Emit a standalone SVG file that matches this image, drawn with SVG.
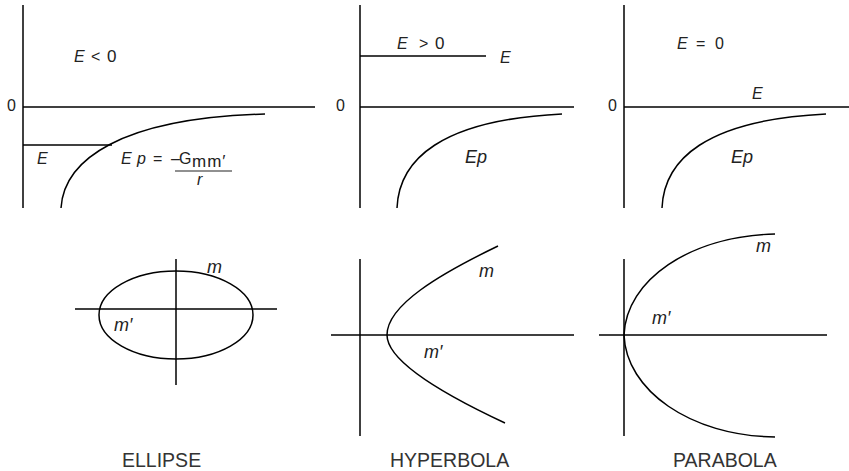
<svg xmlns="http://www.w3.org/2000/svg" width="849" height="471" viewBox="0 0 849 471">
<style>
.ln{stroke:#000;stroke-width:1.5;fill:none}
.t{font-family:"Liberation Sans",Arial,sans-serif;font-size:16px;fill:#222}
.i{font-style:italic}
.m{font-size:18px}
.cap{font-family:"Liberation Sans",Arial,sans-serif;font-size:19.5px;fill:#333}
</style>
<rect width="849" height="471" fill="#fff"/>
<g id="energy-ellipse">
<line class="ln" x1="23" y1="5" x2="23" y2="208"/>
<line class="ln" x1="23" y1="107" x2="315" y2="107"/>
<line class="ln" x1="23" y1="145" x2="112" y2="145"/>
<path class="ln" d="M61,208 C64,160 120,118 265,114"/>
<text class="t" x="7" y="111" font-size="17">0</text>
<text class="t" y="62"><tspan class="i" x="74">E</tspan><tspan x="91">&lt;</tspan><tspan x="107" font-size="17">0</tspan></text>
<text class="t i" x="37" y="164">E</text>
<text class="t" y="164" font-size="17"><tspan class="i" x="121">E</tspan><tspan class="i" x="137">p</tspan><tspan x="153">=</tspan><tspan x="171">–</tspan><tspan x="179">G</tspan><tspan x="192" y="167" font-size="17" letter-spacing="1">mm′</tspan></text>
<line stroke="#222" stroke-width="1.2" x1="175" y1="171" x2="232" y2="171"/>
<text class="t i" x="197" y="185" font-size="17">r</text>
</g>
<g id="energy-hyperbola">
<line class="ln" x1="360" y1="5" x2="360" y2="208"/>
<line class="ln" x1="360" y1="107" x2="574" y2="107"/>
<line class="ln" x1="360" y1="56" x2="486" y2="56"/>
<path class="ln" d="M397,208 C399,160 440,120 562,114"/>
<text class="t" x="336" y="111" font-size="17">0</text>
<text class="t" y="49"><tspan class="i" x="397">E</tspan><tspan x="419">&gt;</tspan><tspan x="435" font-size="17">0</tspan></text>
<text class="t i" x="500" y="63" font-size="17">E</text>
<text class="t i m" x="465" y="163">Ep</text>
</g>
<g id="energy-parabola">
<line class="ln" x1="624" y1="5" x2="624" y2="208"/>
<line class="ln" x1="624" y1="107" x2="849" y2="107"/>
<path class="ln" d="M662,208 C664,160 705,120 826,114"/>
<text class="t" x="608" y="111" font-size="17">0</text>
<text class="t" y="49" font-size="18"><tspan class="i" x="677">E</tspan><tspan x="696">=</tspan><tspan x="715">0</tspan></text>
<text class="t i" x="752" y="99" font-size="17">E</text>
<text class="t i m" x="731" y="163">Ep</text>
</g>
<g id="orbit-ellipse">
<line class="ln" x1="75" y1="309" x2="277" y2="309"/>
<line class="ln" x1="176" y1="259" x2="176" y2="385"/>
<ellipse class="ln" cx="176" cy="315" rx="77" ry="44"/>
<text class="t i m" x="207" y="273">m</text>
<text class="t i m" x="114" y="331">m′</text>
<text class="cap" x="122" y="467">ELLIPSE</text>
</g>
<g id="orbit-hyperbola">
<line class="ln" x1="360" y1="259" x2="360" y2="436"/>
<line class="ln" x1="331" y1="335" x2="574" y2="335"/>
<path class="ln" d="M498,246 C440,274 387,305 387,335 C387,362 445,395 505,423"/>
<text class="t i m" x="479" y="277">m</text>
<text class="t i m" x="424" y="358">m′</text>
<text class="cap" x="390" y="467">HYPERBOLA</text>
</g>
<g id="orbit-parabola">
<line class="ln" x1="624" y1="259" x2="624" y2="436"/>
<line class="ln" x1="599" y1="335" x2="827" y2="335"/>
<path class="ln" d="M775,234 C690,236 626,280 624,335 C626,390 690,436 775,437"/>
<text class="t i m" x="756" y="252">m</text>
<text class="t i m" x="652" y="324">m′</text>
<text class="cap" x="673" y="467">PARABOLA</text>
</g>
</svg>
